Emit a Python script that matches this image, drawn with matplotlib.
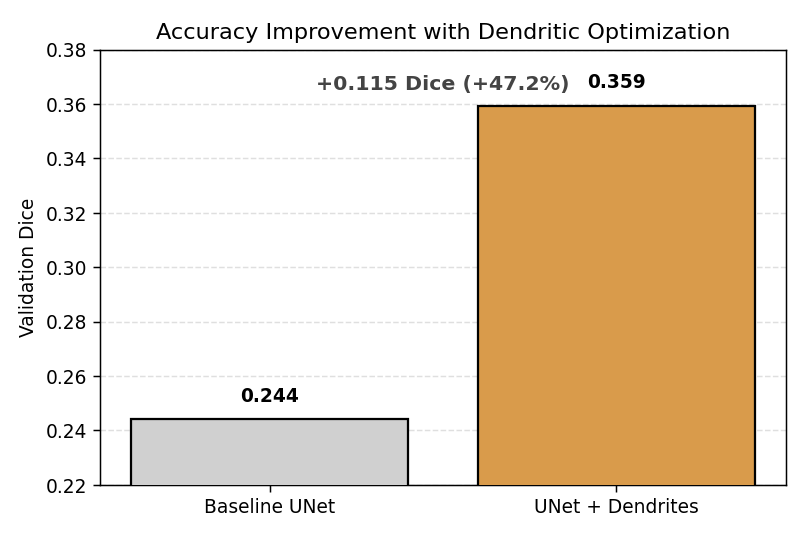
import matplotlib
matplotlib.use("Agg")
import matplotlib.pyplot as plt

labels = ['Baseline UNet', 'UNet + Dendrites']
dice = [0.2442, 0.3594]
colors = ['#d0d0d0', '#d99b4b']

gain = dice[1] - dice[0]
pct = gain / dice[0] * 100

fig, ax = plt.subplots(figsize=(6, 4), dpi=134.33)
bars = ax.bar(labels, dice, color=colors, edgecolor='black', linewidth=1.2, zorder=3)

for b, v in zip(bars, dice):
    ax.text(b.get_x() + b.get_width() / 2, v + 0.005, f'{v:.3f}',
            ha='center', va='bottom', fontsize=10, fontweight='bold')

ax.text(0.5, max(dice) + 0.008, f'+{gain:.3f} Dice (+{pct:.1f}%)',
        ha='center', va='center', fontsize=11, fontweight='bold', color='#444444')

ax.set_ylim(0.22, 0.38)
ax.set_ylabel('Validation Dice')
ax.set_title('Accuracy Improvement with Dendritic Optimization', fontsize=12)
ax.grid(axis='y', linestyle='--', alpha=0.4, zorder=0)
fig.subplots_adjust(left=0.124, right=0.975, top=0.907, bottom=0.097)
plt.savefig('out.png')
